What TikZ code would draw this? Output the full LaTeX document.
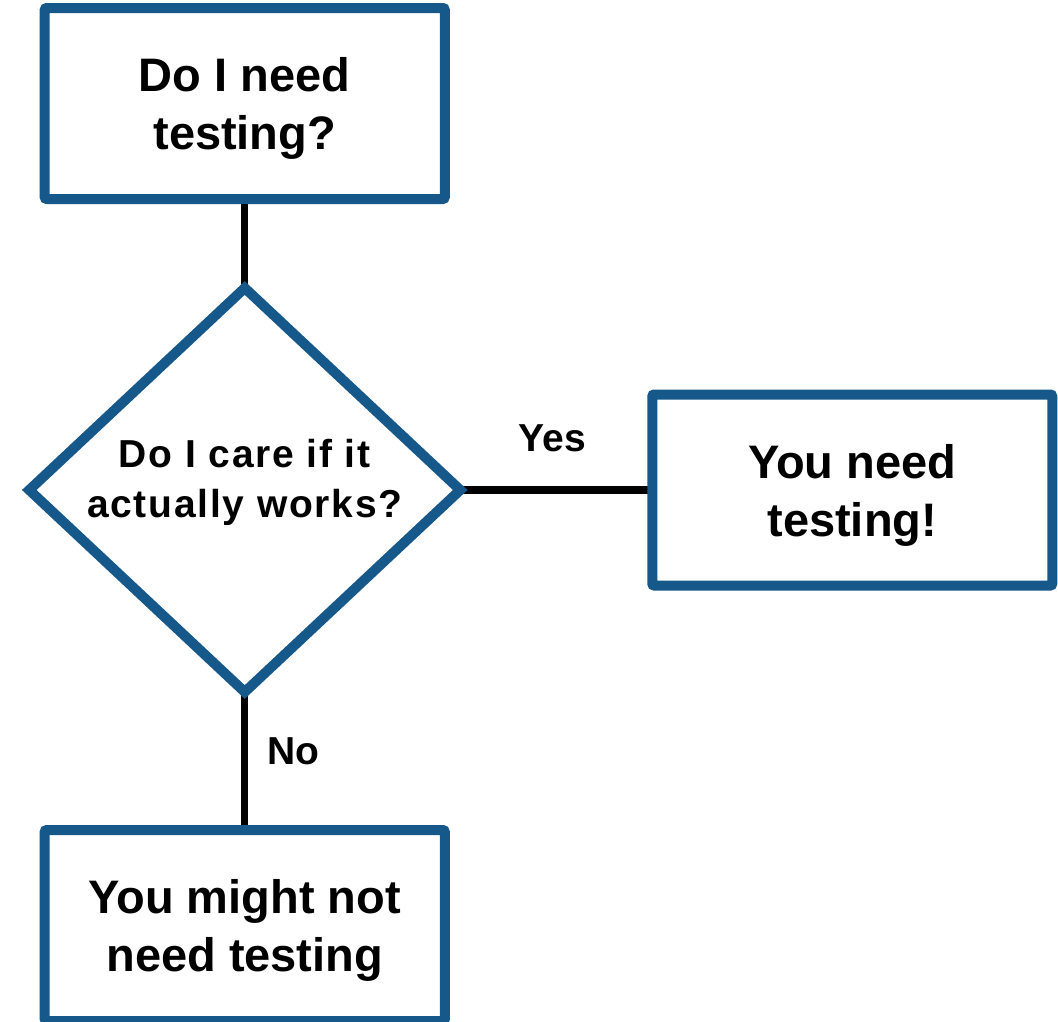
\documentclass[tikz,border=0pt]{standalone}
\usepackage{fontspec}
\setmainfont{Liberation Sans}
\usetikzlibrary{shapes.geometric}
\usetikzlibrary{positioning}
\usetikzlibrary{backgrounds}

\definecolor{boxblue}{RGB}{22,88,138}

\begin{document}
\begin{tikzpicture}

\tikzset{
    box/.style = {draw=boxblue, line width=10pt, rounded corners=2pt, outer sep=0pt, inner sep=0pt,
        minimum width=400pt, minimum height=191pt, align=center, text depth=0pt,
        font=\fontsize{47}{58}\selectfont\bfseries},
    decision/.style = {draw=boxblue, line width=10pt, diamond, aspect=1.067, outer sep=0pt, inner sep=0pt,
        minimum width=431pt, minimum height=404pt},
    question/.style = {align=center, inner sep=0pt, font=\fontsize{39}{50}\selectfont\bfseries\addfontfeature{LetterSpace=4.5}},
    myline/.style = {line width=7.5pt, black},
    answer/.style = {inner sep=0pt, outer sep=0pt, font=\fontsize{39}{39}\selectfont\bfseries}
}

\useasboundingbox (-244.75pt,103.5pt) rectangle (813.25pt,-917.5pt);

%%%%%%%%%%%%%%%%%%%%%%%%%%%%%%%%%%%%%%%%%%%%%%%%%%%%%%%%%
%                       Begin Picture                   %
%%%%%%%%%%%%%%%%%%%%%%%%%%%%%%%%%%%%%%%%%%%%%%%%%%%%%%%%%

%start box
\node[box] (top) {Do I need\\testing?};

%question
\node[decision, below=89pt of top] (care) {};
\node[question] (caretext) at ([yshift=8pt]care.center) {Do I care if it\\actually works?};

%yes branch
\node[box, right=192pt of care] (need) {You need\\testing!};

%no branch
\node[box, below=138pt of care] (maybenot) {You might not\\need testing};

%connectors
\begin{scope}[on background layer]
\draw[myline] (top.south) -- (care.north);
\draw[myline] (care.east) -- node[answer, pos=0.48, above=38pt] (yes) {Yes} (need.west);
\draw[myline] (care.south) -- node[answer, pos=0.43, right=23pt] (no) {No} (maybenot.north);
\end{scope}

\end{tikzpicture}
\end{document}
